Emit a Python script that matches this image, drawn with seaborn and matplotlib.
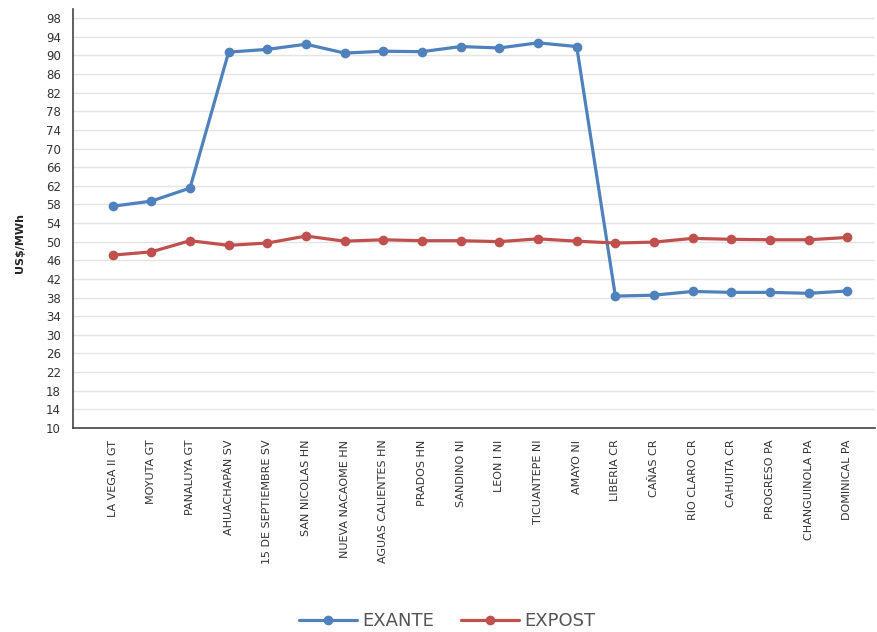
import matplotlib
matplotlib.use("Agg")
import matplotlib.pyplot as plt
import seaborn as sns
import pandas as pd
import numpy as np

categories = ["LA VEGA II GT", "MOYUTA GT", "PANALUYA GT", "AHUACHAPÁN SV", "15 DE SEPTIEMBRE SV",
              "SAN NICOLAS HN", "NUEVA NACAOME HN", "AGUAS CALIENTES HN", "PRADOS HN", "SANDINO NI",
              "LEON I NI", "TICUANTEPE NI", "AMAYO NI", "LIBERIA CR", "CAÑAS CR",
              "RÍO CLARO CR", "CAHUITA CR", "PROGRESO PA", "CHANGUINOLA PA", "DOMINICAL PA"]
exante = [57.6, 58.7, 61.5, 90.7, 91.3, 92.4, 90.5, 90.9, 90.8, 91.9,
          91.6, 92.7, 91.9, 38.3, 38.5, 39.3, 39.1, 39.1, 38.9, 39.4]
expost = [47.1, 47.8, 50.2, 49.2, 49.7, 51.2, 50.1, 50.4, 50.2, 50.2,
          50.0, 50.6, 50.1, 49.7, 49.9, 50.7, 50.5, 50.4, 50.4, 50.9]
series_names = ["EXANTE", "EXPOST"]
yticks = list(range(10, 99, 4))

sns.set_style("white")
plt.rcParams['font.family'] = ['DejaVu Sans']

df = pd.DataFrame({
    "x": list(range(len(categories))) * 2,
    "value": exante + expost,
    "serie": [series_names[0]] * len(categories) + [series_names[1]] * len(categories),
})

fig = plt.figure(figsize=(8.77, 6.32), dpi=100)
ax = fig.add_axes([0.083, 0.323, 0.915, 0.663])
palette = {"EXANTE": "#4F81BD", "EXPOST": "#C0504D"}
sns.lineplot(data=df, x="x", y="value", hue="serie", palette=palette, marker="o",
             markersize=7, linewidth=2.3, markeredgewidth=0, ax=ax, legend=True)

ax.set_ylim(10, 100)
ax.set_xlim(-1.03, 19.72)
ax.set_yticks(yticks)
ax.set_xticks(range(len(categories)))
ax.set_xticklabels(categories, rotation=90, fontsize=8, color="#222222")
ax.tick_params(axis="y", labelsize=8.5, colors="#333333", direction="out", length=5, width=1)
ax.tick_params(axis="x", direction="out", length=5, width=1, colors="#333333")
ax.grid(axis="y", color="#e4e4e4", linewidth=1)
ax.set_axisbelow(True)
for s in ["top", "right"]:
    ax.spines[s].set_visible(False)
for s in ["left", "bottom"]:
    ax.spines[s].set_color("#444444")
    ax.spines[s].set_linewidth(1.2)
ax.set_xlabel("")
ax.set_ylabel("US$/MWh", fontsize=8, fontweight="bold")
ax.yaxis.set_label_coords(-0.06, 0.44)

ax.legend_.remove()
handles, labels = ax.get_legend_handles_labels()
leg = fig.legend(handles, labels, loc="center", bbox_to_anchor=(0.51, 0.017), ncol=2,
                 frameon=False, fontsize=13, handlelength=3.2, columnspacing=1.5,
                 handletextpad=0.3)
for t in leg.get_texts():
    t.set_color("#555555")

fig.savefig("out.png", dpi=100)
